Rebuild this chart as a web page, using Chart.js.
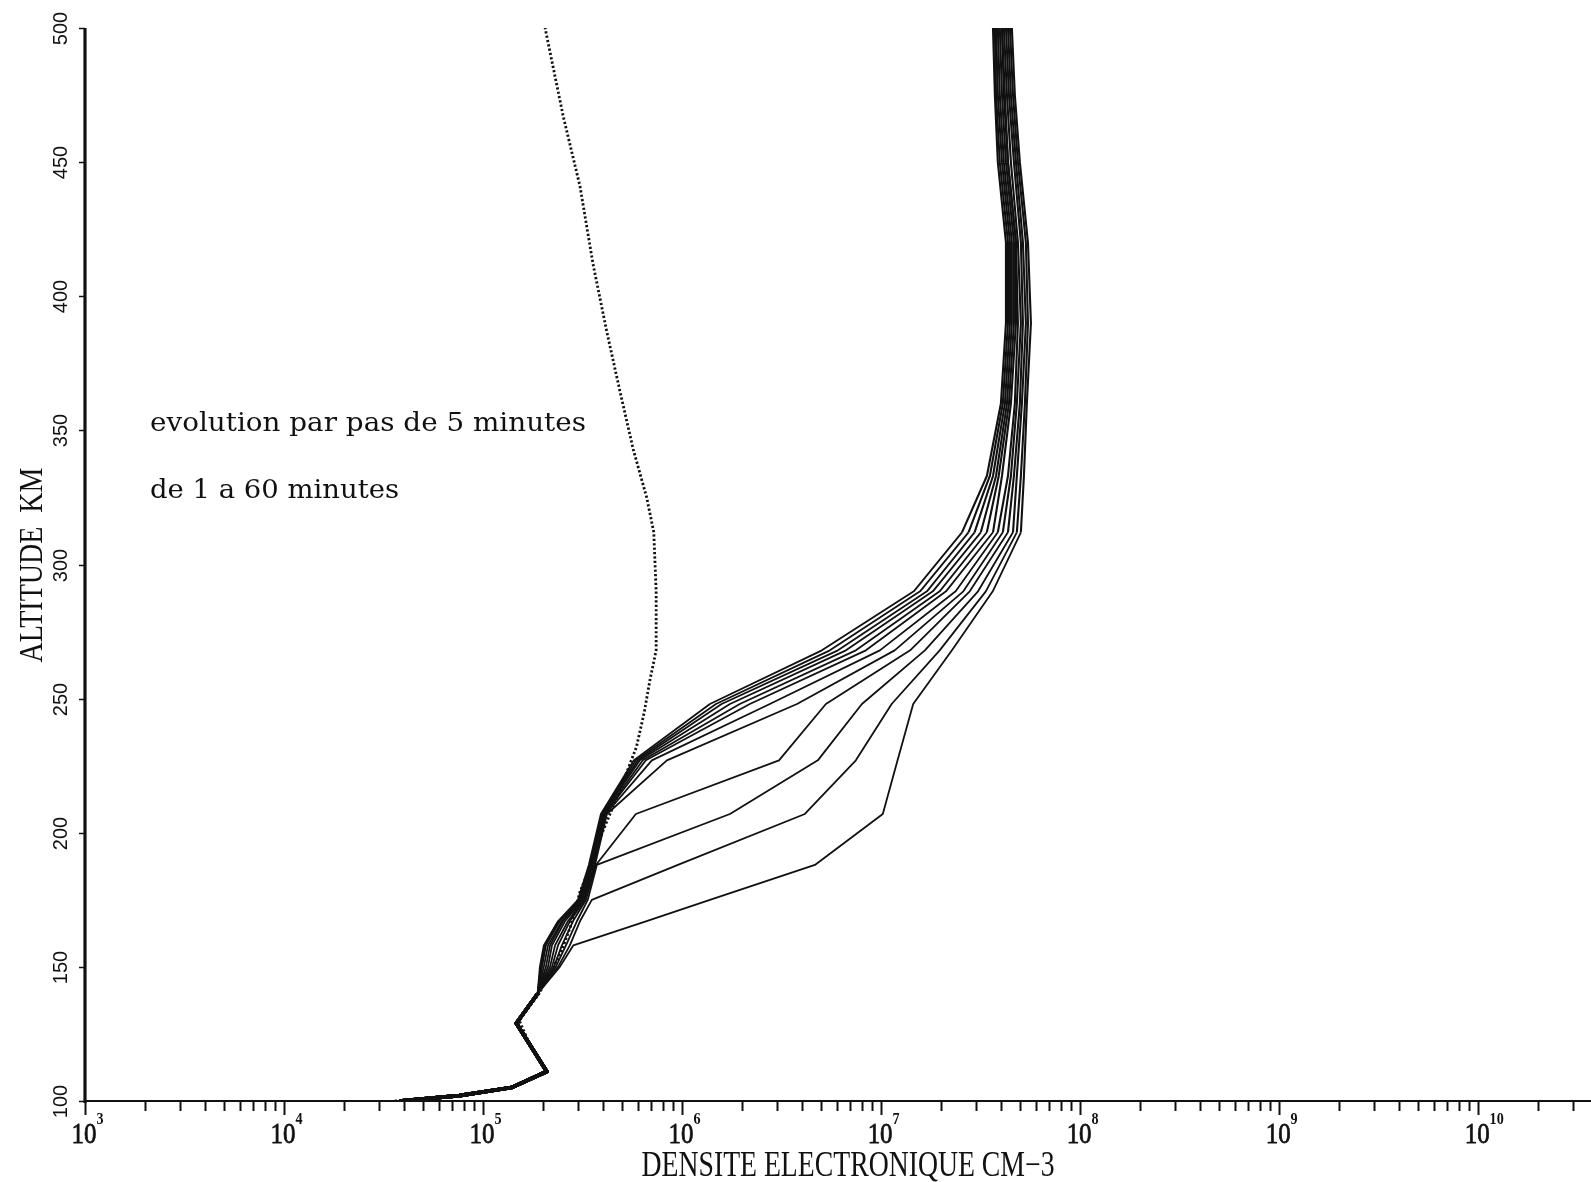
<!DOCTYPE html>
<html>
<head>
<meta charset="utf-8">
<title>Densite electronique</title>
<script src="https://cdn.jsdelivr.net/npm/chart.js@4.4.1/dist/chart.umd.min.js"></script>
<style>
  html, body { margin: 0; padding: 0; background: #fff; }
  #wrap { width: 1591px; height: 1182px; position: relative; }
</style>
</head>
<body>
<div id="wrap"><canvas id="chart"></canvas></div>
<script>
/* Electron density profiles, 1 to 60 min in 5 min steps, plus initial profile (dotted) */

const INK = "#111";

/* common lower part, shared by all 12 profiles */
const lowerAltitudes = [100, 102, 105, 111, 129, 140];
const lowerDensity   = [3.8e4, 7.6e4, 1.39e5, 2.09e5, 1.47e5, 1.88e5];

/* altitudes (km) for the upper part of each profile */
const upperAltitudes = [150, 158, 167, 175, 188, 207, 227, 248, 268, 290, 312, 333, 360, 390, 420, 450, 475, 500];

const curve01 = [2.43e5, 2.84e5, 6.58e5, 1.38e6, 4.65e6, 1.02e7, 1.21e7, 1.45e7, 2.27e7, 3.64e7, 5.04e7, 5.22e7, 5.40e7, 5.66e7, 5.47e7, 4.98e7, 4.70e7, 4.54e7];
const curve02 = [2.38e5, 2.73e5, 3.07e5, 3.52e5, 9.53e5, 4.14e6, 7.47e6, 1.13e7, 1.97e7, 3.36e7, 4.81e7, 5.04e7, 5.28e7, 5.47e7, 5.34e7, 4.87e7, 4.60e7, 4.44e7];
const curve03 = [2.32e5, 2.61e5, 2.96e5, 3.36e5, 3.73e5, 1.74e6, 4.81e6, 8.01e6, 1.66e7, 3.07e7, 4.60e7, 4.81e7, 5.10e7, 5.34e7, 5.16e7, 4.76e7, 4.49e7, 4.34e7];
const curve04 = [2.27e5, 2.49e5, 2.83e5, 3.29e5, 3.69e5, 5.86e5, 3.07e6, 5.28e6, 1.40e7, 2.79e7, 4.34e7, 4.65e7, 4.98e7, 5.16e7, 5.04e7, 4.65e7, 4.39e7, 4.24e7];
const curve05 = [2.22e5, 2.38e5, 2.73e5, 3.25e5, 3.65e5, 4.19e5, 8.39e5, 3.78e6, 1.17e7, 2.59e7, 4.09e7, 4.49e7, 4.81e7, 5.04e7, 4.87e7, 4.49e7, 4.29e7, 4.14e7];
const curve06 = [2.17e5, 2.30e5, 2.67e5, 3.21e5, 3.61e5, 4.14e5, 7.05e5, 2.76e6, 9.86e6, 2.37e7, 3.86e7, 4.34e7, 4.70e7, 4.87e7, 4.76e7, 4.34e7, 4.19e7, 4.05e7];
const curve07 = [2.12e5, 2.22e5, 2.58e5, 3.17e5, 3.56e5, 4.09e5, 6.58e5, 2.19e6, 8.39e6, 2.12e7, 3.65e7, 4.05e7, 4.49e7, 4.76e7, 4.76e7, 4.34e7, 4.14e7, 4.05e7];
const curve08 = [2.07e5, 2.17e5, 2.52e5, 3.14e5, 3.52e5, 4.05e5, 6.35e5, 1.95e6, 7.47e6, 1.97e7, 3.40e7, 3.90e7, 4.39e7, 4.65e7, 4.65e7, 4.24e7, 4.05e7, 3.95e7];
const curve09 = [2.02e5, 2.12e5, 2.49e5, 3.10e5, 3.48e5, 4.00e5, 6.14e5, 1.74e6, 6.66e6, 1.82e7, 3.17e7, 3.78e7, 4.29e7, 4.54e7, 4.54e7, 4.14e7, 3.95e7, 3.86e7];
const curve10 = [1.98e5, 2.07e5, 2.43e5, 3.07e5, 3.44e5, 4.00e5, 6.00e5, 1.58e6, 6.07e6, 1.70e7, 2.95e7, 3.65e7, 4.19e7, 4.44e7, 4.44e7, 4.05e7, 3.86e7, 3.78e7];
const curve11 = [1.95e5, 2.05e5, 2.40e5, 3.03e5, 3.44e5, 3.95e5, 5.86e5, 1.48e6, 5.53e6, 1.57e7, 2.75e7, 3.52e7, 4.09e7, 4.34e7, 4.34e7, 3.95e7, 3.78e7, 3.73e7];
const curve12 = [1.93e5, 2.02e5, 2.38e5, 3.00e5, 3.40e5, 3.91e5, 5.73e5, 1.38e6, 5.04e6, 1.46e7, 2.55e7, 3.40e7, 4.00e7, 4.24e7, 4.24e7, 3.86e7, 3.73e7, 3.65e7];

/* initial profile (dotted) */
const initialAltitudes = [100, 102, 105, 111, 120, 130, 140, 155, 165, 178, 187, 201, 216, 232, 245, 257, 268, 290, 312, 325, 343, 365, 387, 412, 441, 467, 500];
const initialDensity   = [3.6e4, 7.6e4, 1.38e5, 2.09e5, 1.74e5, 1.52e5, 1.91e5, 2.45e5, 2.75e5, 3.07e5, 3.44e5, 4.02e5, 4.88e5, 5.90e5, 6.46e5, 6.90e5, 7.41e5, 7.41e5, 7.21e5, 6.64e5, 5.68e5, 4.86e5, 4.18e5, 3.57e5, 3.07e5, 2.53e5, 2.05e5];

/* axes */
const xTickExponents = [3, 4, 5, 6, 7, 8, 9, 10];
const yTickValues = [100, 150, 200, 250, 300, 350, 400, 450, 500];
const xTitle = "DENSITE ELECTRONIQUE CM\u22123";
const yTitle = "ALTITUDE  KM";
const noteLines = ["evolution par pas de 5 minutes", "de 1 a 60 minutes"];

const curves = [curve01, curve02, curve03, curve04, curve05, curve06,
                curve07, curve08, curve09, curve10, curve11, curve12];

const profileAltitudes = lowerAltitudes.concat(upperAltitudes);

const datasets = curves.map(function (vals, i) {
  const dens = lowerDensity.concat(vals);
  return {
    label: "t" + (i + 1),
    data: profileAltitudes.map((a, k) => ({ x: dens[k], y: a })),
    showLine: true,
    borderColor: INK,
    borderWidth: 1.8,
    borderJoinStyle: "round",
    pointRadius: 0,
    tension: 0,
    segment: {
      borderWidth: ctx => (ctx.p1.parsed.y <= 140 ? 3.6 : (ctx.p0.parsed.y >= 312 ? 2.1 : 1.8))
    }
  };
});

datasets.push({
  label: "initial",
  data: initialAltitudes.map((a, k) => ({ x: initialDensity[k], y: a })),
  showLine: true,
  borderColor: INK,
  borderWidth: 2.8,
  borderDash: [2.2, 2.2],
  pointRadius: 0,
  tension: 0
});

/* draw text squeezed/stretched to a given width */
function fitText(ctx, text, x, y, width, font, align) {
  ctx.save();
  ctx.font = font;
  const w = ctx.measureText(text).width;
  ctx.translate(x, y);
  ctx.scale(width / w, 1);
  ctx.textAlign = align;
  ctx.textBaseline = "alphabetic";
  ctx.fillText(text, 0, 0);
  ctx.restore();
}

const axesPlugin = {
  id: "oldAxes",
  afterDraw(chart) {
    const { ctx, chartArea: a } = chart;
    const xs = chart.scales.x, ys = chart.scales.y;
    ctx.save();
    ctx.strokeStyle = INK;
    ctx.fillStyle = INK;

    /* axis lines */
    ctx.lineWidth = 2;
    ctx.beginPath(); ctx.moveTo(a.left, a.bottom); ctx.lineTo(a.right, a.bottom); ctx.stroke();
    ctx.lineWidth = 3.2;
    ctx.beginPath(); ctx.moveTo(a.left, a.top); ctx.lineTo(a.left, a.bottom + 2); ctx.stroke();

    /* x ticks: 1..9 x 10^n, pointing down */
    ctx.lineWidth = 2;
    xTickExponents.forEach(function (e) {
      for (let m = 1; m <= 9; m++) {
        const v = m * Math.pow(10, e);
        if (v > xs.max) break;
        const px = Math.round(xs.getPixelForValue(v)) + 0.5;
        ctx.beginPath();
        ctx.moveTo(px, a.bottom);
        ctx.lineTo(px, a.bottom + (m === 1 ? 14 : 10));
        ctx.stroke();
      }
    });

    /* x tick labels 10^n */
    xTickExponents.forEach(function (e) {
      const px = xs.getPixelForValue(Math.pow(10, e));
      ctx.save();
      ctx.translate(px - 1, 1143);
      ctx.scale(0.83, 1);
      ctx.font = '30px "Liberation Serif"';
      ctx.textAlign = "center";
      ctx.textBaseline = "alphabetic";
      ctx.lineWidth = 0.8;
      ctx.fillText("10", 0, 0);
      ctx.strokeText("10", 0, 0);
      const w = ctx.measureText("10").width;
      ctx.font = 'bold 17px "Liberation Serif"';
      ctx.textAlign = "left";
      ctx.fillText(String(e), w / 2, -19);
      ctx.restore();
    });

    /* y ticks and labels */
    ctx.lineWidth = 1.5;
    yTickValues.forEach(function (v) {
      const py = Math.round(ys.getPixelForValue(v)) + 0.5;
      ctx.beginPath(); ctx.moveTo(a.left - 6, py); ctx.lineTo(a.left, py); ctx.stroke();
      ctx.save();
      ctx.translate(61, py);
      ctx.rotate(-Math.PI / 2);
      ctx.font = '20px "Liberation Sans"';
      ctx.textAlign = "center";
      ctx.textBaseline = "middle";
      ctx.fillText(String(v), 0, 0);
      ctx.restore();
    });

    /* axis titles */
    fitText(ctx, xTitle, 848, 1176, 413, '35px "Liberation Serif"', "center");
    ctx.save();
    ctx.translate(42, 565);
    ctx.rotate(-Math.PI / 2);
    fitText(ctx, yTitle, 0, 0, 195, '34px "Liberation Serif"', "center");
    ctx.restore();

    /* annotation */
    fitText(ctx, noteLines[0], 150, 431, 436, '26px "DejaVu Serif"', "left");
    fitText(ctx, noteLines[1], 150, 498, 249, '26px "DejaVu Serif"', "left");

    ctx.restore();
  }
};

new Chart(document.getElementById("chart"), {
  type: "scatter",
  data: { datasets: datasets },
  options: {
    responsive: true,
    maintainAspectRatio: false,
    animation: false,
    layout: { padding: { left: 85, top: 28, right: 0, bottom: 81 } },
    plugins: {
      legend: { display: false },
      tooltip: { enabled: false }
    },
    scales: {
      x: { type: "logarithmic", display: false, min: 1e3, max: 3.69e10 },
      y: { type: "linear", display: false, min: 100, max: 500 }
    }
  },
  plugins: [axesPlugin]
});
</script>
</body>
</html>
